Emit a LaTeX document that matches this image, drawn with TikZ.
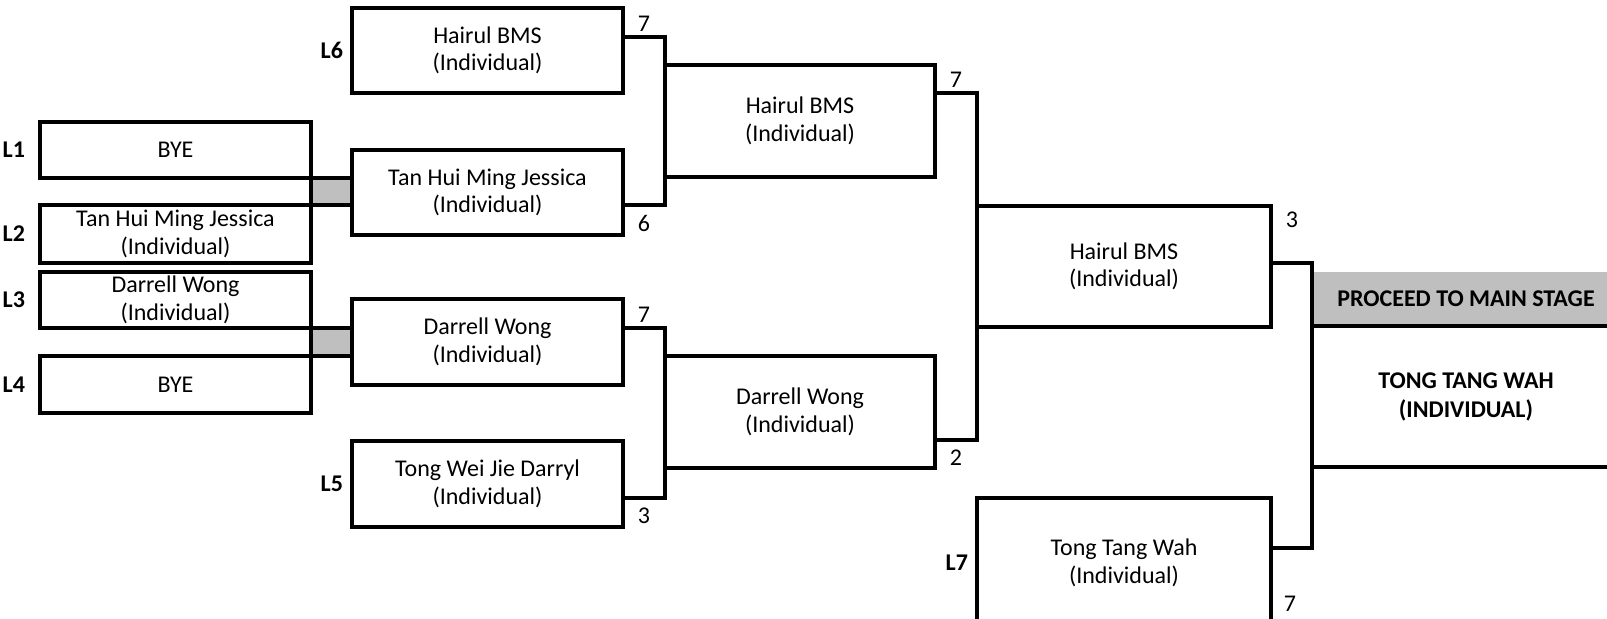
\documentclass[tikz,border=0pt]{standalone}
\usepackage{fontspec}
\setmainfont{Carlito}
\definecolor{cellgray}{RGB}{191,191,191}

\begin{document}
\begin{tikzpicture}[x=0.5pt,y=-0.5pt,
  box/.style={draw,line width=1.9pt,inner sep=0pt,outer sep=0pt,align=center,font=\fontsize{12}{13.8}\selectfont},
  link/.style={line width=1.9pt},
  seed/.style={font=\fontsize{12}{13.8}\selectfont\bfseries},
  score/.style={font=\fontsize{12}{13.8}\selectfont,inner sep=2pt},
  final/.style={inner sep=0pt,outer sep=0pt,align=center,font=\fontsize{12}{14.5}\selectfont\bfseries}]
\useasboundingbox (0,0) rectangle (1607,618);
\clip (0,0) rectangle (1607,618);

% first round
\node[box,minimum width=135.5pt,minimum height=28pt,label={[seed,label distance=4pt]left:L1}] (l1) at (175.5,150) {BYE};
\node[box,minimum width=135.5pt,minimum height=29pt,label={[seed,label distance=4pt]left:L2}] (l2) at (175.5,234) {Tan Hui Ming Jessica\\(Individual)};
\node[box,minimum width=135.5pt,minimum height=28pt,label={[seed,label distance=4pt]left:L3}] (l3) at (175.5,300) {Darrell Wong\\(Individual)};
\node[box,minimum width=135.5pt,minimum height=28.5pt,label={[seed,label distance=4pt]left:L4}] (l4) at (175.5,384.5) {BYE};

% second round
\node[box,minimum width=135.5pt,minimum height=42.5pt,label={[seed,label distance=1pt]left:L6}] (hb1) at (487.5,50.5) {Hairul BMS\\(Individual)};
\node[box,minimum width=135.5pt,minimum height=42.5pt] (tan) at (487.5,192.5) {Tan Hui Ming Jessica\\(Individual)};
\node[box,minimum width=135.5pt,minimum height=43pt] (dw1) at (487.5,342) {Darrell Wong\\(Individual)};
\node[box,minimum width=135.5pt,minimum height=43pt,label={[seed,label distance=1pt]left:L5}] (twj) at (487.5,484) {Tong Wei Jie Darryl\\(Individual)};

\draw[link,fill=cellgray] (l1.south east) rectangle (tan.west |- l2.north);
\draw[link,fill=cellgray] (l3.south east) rectangle (dw1.west |- l4.north);

% third round
\node[box,minimum width=135pt,minimum height=56pt] (hb2) at (800,121) {Hairul BMS\\(Individual)};
\node[box,minimum width=135pt,minimum height=56pt] (dw2) at (800,412) {Darrell Wong\\(Individual)};

\draw[link] (hb1.east |- 0,37) -- node[score,above] {7} (hb2.west |- 0,37) -- (hb2.west |- 0,205) -- node[score,below=2pt] {6} (tan.east |- 0,205);
\draw[link] (dw1.east |- 0,328) -- node[score,above] {7} (dw2.west |- 0,328) -- (dw2.west |- 0,498) -- node[score,below=2pt] {3} (twj.east |- 0,498);

% fourth round
\node[box,minimum width=147pt,minimum height=60.5pt] (hb3) at (1124,266.5) {Hairul BMS\\(Individual)};
\node[box,minimum width=147pt,minimum height=65pt,label={[seed,label distance=1pt]left:L7}] (ttw) at (1124,563) {Tong Tang Wah\\(Individual)};

\draw[link] (hb2.east |- 0,93) -- node[score,above] {7} (hb3.west |- 0,93) -- (hb3.west |- 0,440) -- node[score,below=2pt] {2} (dw2.east |- 0,440);

% main stage
\node[final,fill=cellgray,minimum width=154pt,minimum height=27pt] (proceed) at (1466,299) {PROCEED TO MAIN STAGE};
\node[final,draw,line width=1.9pt,minimum width=154pt,minimum height=70.5pt] (champ) at (1466,396.5) {TONG TANG WAH\\(INDIVIDUAL)};

\draw[link] (hb3.east |- 0,263) -- (champ.west |- 0,263) -- (champ.west |- 0,548) -- (ttw.east |- 0,548);
\node[score] (s3) at (1292,220) {3};
\node[score] (s7) at (1290,604) {7};

\end{tikzpicture}
\end{document}
